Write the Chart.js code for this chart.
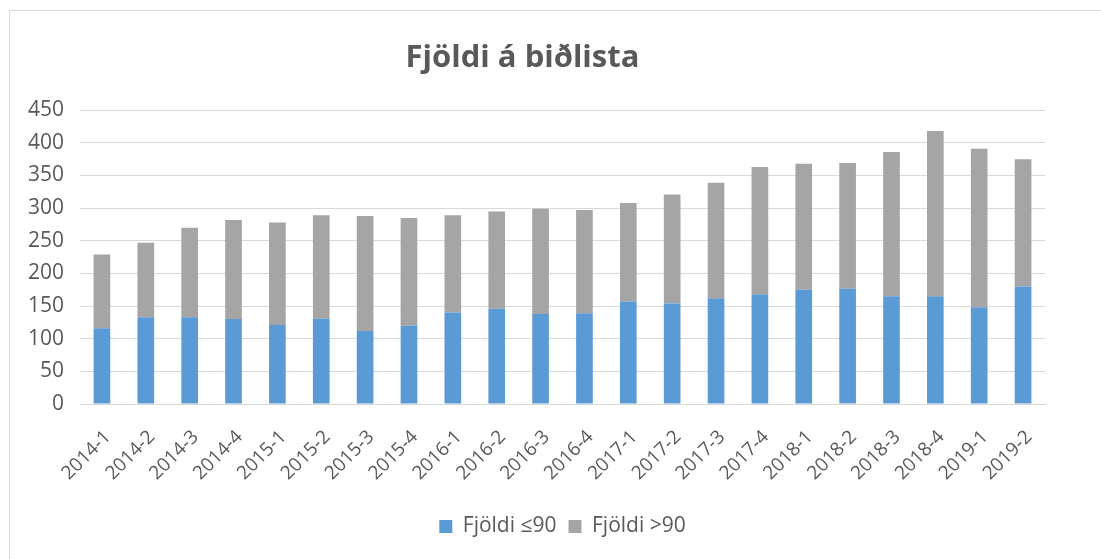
<!DOCTYPE html>
<html>
<head>
<meta charset="utf-8">
<script src="https://cdn.jsdelivr.net/npm/chart.js@4"></script>
<style>
  html, body { margin: 0; padding: 0; background: #fff; }
  #frame { position: absolute; left: 9px; top: 10px; width: 1200px; height: 700px; border: 1px solid #d9d9d9; }
  #wrap { position: absolute; left: 0; top: 0; width: 1101px; height: 559px; }
</style>
</head>
<body>
<div id="frame"></div>
<div id="wrap"><canvas id="chart" width="1101" height="559"></canvas></div>
<script>
const quarters = ['2014-1','2014-2','2014-3','2014-4','2015-1','2015-2','2015-3','2015-4','2016-1','2016-2','2016-3','2016-4','2017-1','2017-2','2017-3','2017-4','2018-1','2018-2','2018-3','2018-4','2019-1','2019-2']
const upTo90 = [116, 133, 133, 130, 121, 131, 112, 120, 140, 146, 138, 139, 157, 154, 162, 168, 175, 177, 165, 165, 148, 180]
const totals = [229, 247, 270, 282, 278, 289, 288, 285, 289, 295, 299, 297, 308, 321, 339, 363, 368, 369, 386, 418, 391, 375]
const over90 = totals.map((t, i) => t - upTo90[i])

const textColor = '#595959'
const gridColor = '#d9d9d9'
Chart.defaults.font.family = "'Open Sans', sans-serif"
Chart.defaults.color = textColor

// center the legend under the plot area instead of the whole canvas
const legendUnderPlot = {
  id: 'legendUnderPlot',
  afterLayout(chart) {
    chart.legend.left = chart.chartArea.left
    chart.legend.right = chart.chartArea.right
  }
}

new Chart(document.getElementById('chart'), {
  type: 'bar',
  data: {
    labels: quarters,
    datasets: [
      { label: 'Fjöldi ≤90', data: upTo90, backgroundColor: '#5b9bd5' },
      { label: 'Fjöldi >90', data: over90, backgroundColor: '#a5a5a5' }
    ]
  },
  options: {
    responsive: false,
    animation: false,
    layout: { padding: { left: 0, right: 56, top: 0, bottom: 12 } },
    datasets: { bar: { barPercentage: 0.38, categoryPercentage: 1 } },
    plugins: {
      title: {
        display: true,
        text: 'Fjöldi á biðlista',
        color: textColor,
        font: { size: 31, weight: 'bold' },
        padding: { top: 40, bottom: 33 }
      },
      legend: {
        position: 'bottom',
        labels: { boxWidth: 13, boxHeight: 13, padding: 12, font: { size: 21 }, color: textColor }
      },
      tooltip: { enabled: false }
    },
    scales: {
      x: {
        stacked: true,
        grid: { display: false },
        border: { color: gridColor },
        ticks: { minRotation: 45, maxRotation: 45, font: { size: 19 }, color: textColor, padding: 14, labelOffset: 6 },
        afterFit: s => { s.height = 100 }
      },
      y: {
        stacked: true,
        min: 0, max: 450,
        ticks: { stepSize: 50, font: { size: 21 }, color: textColor, padding: 16 },
        grid: { color: gridColor, drawTicks: false },
        border: { display: false },
        afterFit: s => { s.width = 80 }
      }
    }
  },
  plugins: [legendUnderPlot]
})
</script>
</body>
</html>
